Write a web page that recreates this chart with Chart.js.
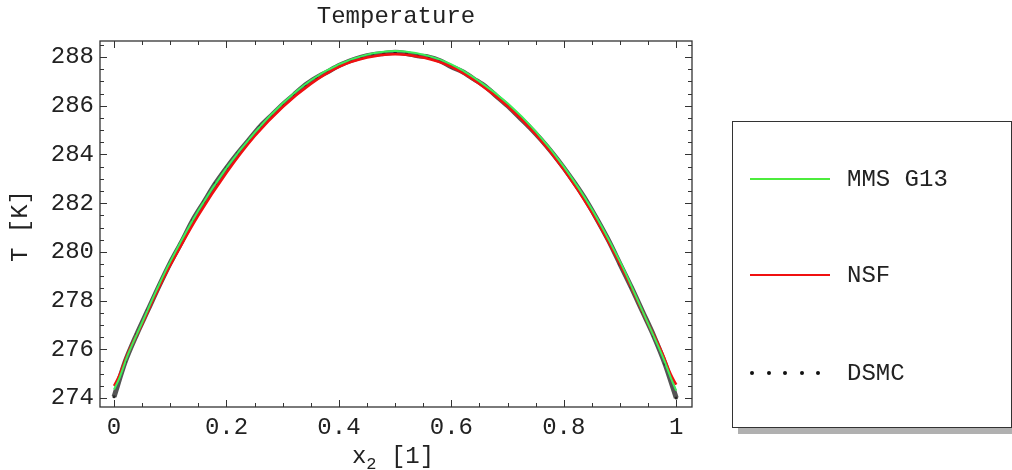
<!DOCTYPE html>
<html lang="en">
<head>
  <meta charset="UTF-8" />
  <script src="https://cdn.jsdelivr.net/npm/chart.js"></script>
  <title>Temperature</title>
  <style>
    body { margin: 0; background: #fff; }
    #wrap { position: relative; width: 1012px; height: 470px; }
    .legend {
      position: absolute; left: 732px; top: 121px; width: 278px; height: 305px;
      border: 1.5px solid #333; background: #fff; box-shadow: 6px 6px 0 #b0b0b0;
      font-family: 'Liberation Mono', monospace; font-size: 24px; color: #222;
    }
    .item { position: absolute; left: 17px; height: 30px; display: flex; align-items: center; }
    .swatch { width: 80px; height: 0; margin-right: 17px; }
    .dots { width: 80px; margin-right: 17px; display: flex; justify-content: space-between; padding: 0 10px 0 0; box-sizing: border-box; }
    .dots span { width: 4px; height: 4px; border-radius: 50%; background: #111; }
  </style>
</head>
<body>
  <div id="wrap">
    <canvas id="chart" width="1012" height="470"></canvas>
    <div class="legend">
      <div class="item" style="top:42px"><div class="swatch" style="border-top:2px solid #4cec3c"></div>MMS G13</div>
      <div class="item" style="top:138px"><div class="swatch" style="border-top:2px solid #f01010"></div>NSF</div>
      <div class="item" style="top:236px"><div class="dots"><span></span><span></span><span></span><span></span><span></span></div>DSMC</div>
    </div>
  </div>
  <script>
    // x positions and temperatures
    const xModel = [0, 0.01, 0.025, 0.05, 0.075, 0.1, 0.15, 0.2, 0.25, 0.3, 0.35, 0.4, 0.45, 0.5,
      0.55, 0.6, 0.65, 0.7, 0.75, 0.8, 0.85, 0.9, 0.925, 0.95, 0.975, 0.99, 1];
    const mmsG13 = [274.35, 274.85, 275.8, 277.1, 278.4, 279.6, 281.7, 283.45, 284.9, 286.1, 287.05, 287.7, 288.1, 288.25,
      288.1, 287.7, 287.0, 286.1, 284.95, 283.5, 281.75, 279.6, 278.35, 277.05, 275.75, 274.85, 274.3];
    const nsf = [274.5, 274.95, 275.85, 277.05, 278.3, 279.45, 281.5, 283.25, 284.75, 285.95, 286.9, 287.6, 287.98, 288.12,
      287.98, 287.6, 286.9, 285.98, 284.82, 283.38, 281.62, 279.5, 278.3, 277.05, 275.85, 274.98, 274.55];

    const xDsmc = [0, 0.02, 0.04, 0.06, 0.08, 0.1, 0.12, 0.14, 0.16, 0.18, 0.2, 0.22, 0.24, 0.26, 0.28, 0.3, 0.32, 0.34,
      0.36, 0.38, 0.4, 0.42, 0.44, 0.46, 0.48, 0.5, 0.52, 0.54, 0.56, 0.58, 0.6, 0.62, 0.64, 0.66, 0.68, 0.7, 0.72,
      0.74, 0.76, 0.78, 0.8, 0.82, 0.84, 0.86, 0.88, 0.9, 0.92, 0.94, 0.96, 0.98, 1];
    const dsmc = [274.05, 275.5, 276.6, 277.6, 278.6, 279.55, 280.4, 281.3, 282.05, 282.8, 283.45, 284.05, 284.6, 285.15,
      285.6, 286.05, 286.45, 286.85, 287.15, 287.4, 287.65, 287.85, 288.0, 288.1, 288.15, 288.2, 288.15, 288.05, 288.0,
      287.85, 287.6, 287.4, 287.1, 286.8, 286.4, 286.0, 285.55, 285.1, 284.6, 284.05, 283.45, 282.8, 282.1, 281.3,
      280.45, 279.5, 278.55, 277.55, 276.55, 275.4, 274.0];

    const xTicks = [0, 0.2, 0.4, 0.6, 0.8, 1];
    const xMinorTicks = [0.05, 0.1, 0.15, 0.25, 0.3, 0.35, 0.45, 0.5, 0.55, 0.65, 0.7, 0.75, 0.85, 0.9, 0.95];
    const yTicks = [274, 276, 278, 280, 282, 284, 286, 288];
    const yMinorTicks = [274.5, 275, 275.5, 276.5, 277, 277.5, 278.5, 279, 279.5, 280.5, 281, 281.5,
      282.5, 283, 283.5, 284.5, 285, 285.5, 286.5, 287, 287.5, 288.5];

    const FONT = 'Liberation Mono';
    const pts = (xs, ys) => xs.map((x, i) => ({ x: x, y: ys[i] }));

    // frame with inward ticks on all four sides, plus titles
    const framePlugin = {
      id: 'frame',
      afterDraw(chart) {
        const { ctx, chartArea: a, scales: { x, y } } = chart;
        ctx.save();
        ctx.strokeStyle = '#333';
        ctx.lineWidth = 1.3;
        ctx.strokeRect(a.left, a.top, a.right - a.left, a.bottom - a.top);
        ctx.lineWidth = 1;
        ctx.beginPath();
        const tx = (v, len) => {
          const px = Math.round(x.getPixelForValue(v)) + 0.5;
          ctx.moveTo(px, a.bottom); ctx.lineTo(px, a.bottom - len);
          ctx.moveTo(px, a.top); ctx.lineTo(px, a.top + len);
        };
        const ty = (v, len) => {
          const py = Math.round(y.getPixelForValue(v)) + 0.5;
          ctx.moveTo(a.left, py); ctx.lineTo(a.left + len, py);
          ctx.moveTo(a.right, py); ctx.lineTo(a.right - len, py);
        };
        xTicks.forEach(v => tx(v, 7));
        xMinorTicks.forEach(v => tx(v, 4));
        yTicks.forEach(v => ty(v, 7));
        yMinorTicks.forEach(v => ty(v, 4));
        ctx.stroke();

        ctx.fillStyle = '#222';
        ctx.font = '24px "' + FONT + '"';
        ctx.textAlign = 'center';
        ctx.textBaseline = 'middle';
        ctx.fillText('Temperature', (a.left + a.right) / 2, 17);

        // x axis title with subscript
        const w1 = ctx.measureText('x').width;
        const w3 = ctx.measureText(' [1]').width;
        ctx.font = '17px "' + FONT + '"';
        const w2 = ctx.measureText('2').width;
        let sx = 393 - (w1 + w2 + w3) / 2;
        ctx.textAlign = 'left';
        ctx.font = '24px "' + FONT + '"';
        ctx.fillText('x', sx, 457);
        ctx.font = '17px "' + FONT + '"';
        ctx.fillText('2', sx + w1, 464);
        ctx.font = '24px "' + FONT + '"';
        ctx.fillText(' [1]', sx + w1 + w2, 457);

        ctx.translate(21, (a.top + a.bottom) / 2 + 2);
        ctx.rotate(-Math.PI / 2);
        ctx.textAlign = 'center';
        ctx.fillText('T [K]', 0, 0);
        ctx.restore();
      }
    };

    new Chart(document.getElementById('chart'), {
      type: 'line',
      data: {
        datasets: [
          {
            label: 'MMS G13', data: pts(xModel, mmsG13), borderColor: '#3cf05a', borderWidth: 2,
            pointRadius: 0, tension: 0.4, order: 0
          },
          {
            label: 'NSF', data: pts(xModel, nsf), borderColor: '#f01010', borderWidth: 2.5,
            pointRadius: 0, tension: 0.4, order: 1
          },
          {
            label: 'DSMC', data: pts(xDsmc, dsmc), borderColor: '#555', borderWidth: 5,
            pointRadius: 1.6, pointBorderWidth: 0, pointBackgroundColor: '#262626',
            tension: 0.3, order: 2
          }
        ]
      },
      options: {
        responsive: false,
        animation: false,
        layout: { padding: { left: 0, top: 41, right: 320, bottom: 0 } },
        plugins: { legend: { display: false }, tooltip: { enabled: false }, title: { display: false } },
        scales: {
          x: {
            type: 'linear', min: -0.025, max: 1.028,
            afterFit(s) { s.height = 63; },
            afterBuildTicks(s) { s.ticks = xTicks.map(v => ({ value: v })); },
            grid: { display: false, drawTicks: false },
            border: { display: false },
            ticks: {
              font: { family: FONT, size: 24 }, color: '#222', padding: 6, maxRotation: 0, autoSkip: false,
              callback: v => String(v)
            }
          },
          y: {
            type: 'linear', min: 273.63, max: 288.66,
            afterFit(s) { s.width = 100; },
            afterBuildTicks(s) { s.ticks = yTicks.map(v => ({ value: v })); },
            grid: { display: false, drawTicks: false },
            border: { display: false },
            ticks: { font: { family: FONT, size: 24 }, color: '#222', padding: 6, autoSkip: false }
          }
        }
      },
      plugins: [framePlugin]
    });
  </script>
</body>
</html>
